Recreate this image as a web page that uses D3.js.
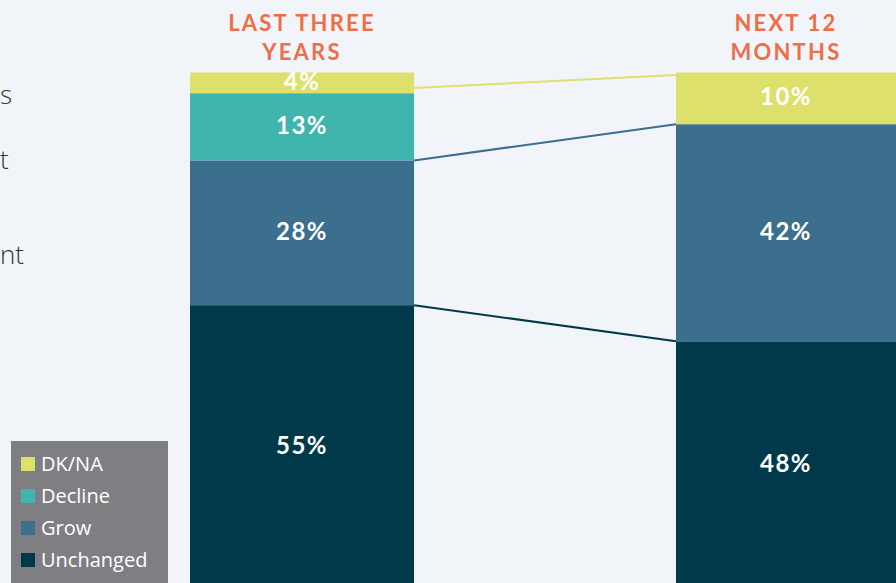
<!DOCTYPE html>
<html><head><meta charset="utf-8">
<script src="https://cdn.jsdelivr.net/npm/d3@7"></script>
<style>
html,body{margin:0;padding:0;background:#f1f5f9;overflow:hidden}
svg{display:block}
</style></head>
<body><svg id="c" width="896" height="583"></svg>
<script>
const periods = ["LAST THREE YEARS", "NEXT 12 MONTHS"];
const titleLines = [["LAST THREE", "YEARS"], ["NEXT 12", "MONTHS"]];
const seriesNames = ["Unchanged", "Grow", "Decline", "DK/NA"];
const unchanged = [55, 48];
const grow = [28, 42];
const decline = [13, 0];
const dkna = [4, 10];
const legendOrder = ["DK/NA", "Decline", "Grow", "Unchanged"];
const sideFragments = ["s", "t", "nt"];

const colors = {"DK/NA":"#dde06b","Decline":"#3fb5ae","Grow":"#3c6e8e","Unchanged":"#003a4a"};
const values = {"Unchanged":unchanged,"Grow":grow,"Decline":decline,"DK/NA":dkna};

const svg = d3.select("#c");
const x = d3.scaleBand().domain(periods).range([190, 900]).paddingInner(0.539).paddingOuter(0);
const y = d3.scaleLinear().domain([0, 100]).range([589.5, 72.5]);

const rows = periods.map((p, i) => {
  const r = {period: p};
  seriesNames.forEach(s => r[s] = values[s][i]);
  return r;
});
const stack = d3.stack().keys(seriesNames)(rows);

// connector lines
const conn = [
  {key:"Unchanged", a:[unchanged[0], unchanged[1]]},
  {key:"Grow", a:[unchanged[0]+grow[0], unchanged[1]+grow[1]]},
  {key:"DK/NA", a:[100 - dkna[0]*0.75, 100 - dkna[1]*0.05]}
];
svg.append("g").selectAll("line").data(conn).join("line")
  .attr("x1", x(periods[0]) + x.bandwidth())
  .attr("x2", x(periods[1]))
  .attr("y1", d => y(d.a[0]))
  .attr("y2", d => y(d.a[1]))
  .attr("stroke", d => colors[d.key])
  .attr("stroke-width", 2);

// bars
const g = svg.append("g");
stack.forEach(layer => {
  g.append("g").attr("fill", colors[layer.key]).selectAll("rect").data(layer).join("rect")
    .attr("x", d => x(d.data.period))
    .attr("width", x.bandwidth())
    .attr("y", d => y(d[1]))
    .attr("height", d => y(d[0]) - y(d[1]));
});

// labels
stack.forEach(layer => {
  g.append("g").selectAll("text").data(layer.filter(d => d[1] - d[0] > 0)).join("text")
    .attr("x", d => x(d.data.period) + x.bandwidth()/2 - (d.data.period === periods[1] ? 2 : 0))
    .attr("y", d => (y(d[0]) + y(d[1]))/2 + 7)
    .attr("text-anchor", "middle")
    .attr("fill", "#ffffff")
    .attr("font-family", "Lato, sans-serif")
    .attr("font-weight", 700)
    .attr("font-size", 24)
    .attr("letter-spacing", 1.5)
    .text(d => (d[1] - d[0]) + "%");
});

// titles
periods.forEach((p, i) => {
  const t = svg.append("text")
    .attr("text-anchor", "middle")
    .attr("fill", "#ec6f47")
    .attr("font-family", "Lato, sans-serif")
    .attr("font-weight", 700)
    .attr("font-size", 22)
    .attr("letter-spacing", 2.2);
  titleLines[i].forEach((line, j) => {
    t.append("tspan").attr("x", x(p) + x.bandwidth()/2 - (i === 1 ? 2 : 0)).attr("y", 31 + j*29).text(line);
  });
});

// side text fragments
const fragPos = [{x:0, y:104}, {x:0, y:169}, {x:0, y:264}];
svg.append("g").selectAll("text").data(sideFragments).join("text")
  .attr("x", (d, i) => fragPos[i].x)
  .attr("y", (d, i) => fragPos[i].y)
  .attr("text-anchor", "start")
  .attr("fill", "#333333")
  .attr("font-family", "'Open Sans', sans-serif")
  .attr("font-weight", 300)
  .attr("font-size", 26)
  .text(d => d);

// legend
const lg = svg.append("g");
lg.append("rect").attr("x", 11).attr("y", 441).attr("width", 157).attr("height", 150).attr("fill", "#7f7f83");
const items = lg.selectAll("g.it").data(legendOrder).join("g").attr("class", "it")
  .attr("transform", (d, i) => `translate(21, ${457 + i*32})`);
items.append("rect").attr("width", 14).attr("height", 14).attr("fill", d => colors[d]);
items.append("text").attr("x", 20).attr("y", 14)
  .attr("fill", "#ffffff")
  .attr("font-family", "'Open Sans', sans-serif")
  .attr("font-size", 20)
  .text(d => d);
</script>
</body></html>
